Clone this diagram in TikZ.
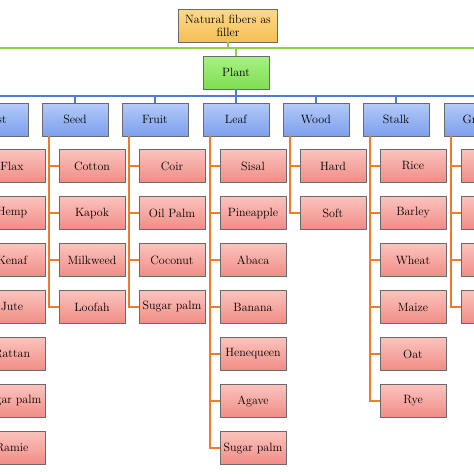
\documentclass[tikz,border=0pt]{standalone}
\definecolor{topA}{HTML}{FCD98A}
\definecolor{topB}{HTML}{F6BE55}
\definecolor{grnA}{HTML}{A8F283}
\definecolor{grnB}{HTML}{7EDD52}
\definecolor{bluA}{HTML}{B3CBF9}
\definecolor{bluB}{HTML}{7D9FEC}
\definecolor{redA}{HTML}{FBC3BD}
\definecolor{redB}{HTML}{F08C86}
\definecolor{lnG}{HTML}{8CD446}
\definecolor{lnB}{HTML}{4F7BD0}
\definecolor{lnO}{HTML}{EE7B30}
\definecolor{bord}{HTML}{6A6A6A}
\tikzset{
  basebox/.style={draw=bord, line width=0.7pt, minimum width=66pt, minimum height=33pt,
    inner sep=1pt, align=center, font=\fontsize{12}{13}\selectfont, text=black},
  topbox/.style={basebox, minimum width=99pt, minimum height=33pt, top color=topA, bottom color=topB},
  plantbox/.style={basebox, top color=grnA, bottom color=grnB},
  catbox/.style={basebox, top color=bluA, bottom color=bluB},
  itembox/.style={basebox, top color=redA, bottom color=redB},
  gline/.style={draw=lnG, line width=2pt},
  bline/.style={draw=lnB, line width=2pt},
  oline/.style={draw=lnO, line width=2pt},
}
\begin{document}
\begin{tikzpicture}[x=1pt,y=-1pt]
\useasboundingbox (0,0) rectangle (474,474);
\clip (0,0) rectangle (474,474);
\fill[white] (0,0) rectangle (474,474);
% root and plant
\node[topbox] (root) at (228,25.5) {Natural fibers as\\filler};
\node[plantbox] (plant) at (236,72.5) {Plant};
\coordinate (gl) at (-5,48);
\coordinate (gr) at (480,48);
\draw[gline] (gl) -- (gr);
\draw[gline] (root.south) -- (root.south |- gl);
\draw[gline] (plant.north) -- (plant.north |- gl);
% category bus
\coordinate (bl) at (-5,96);
\coordinate (br) at (480,96);
\draw[bline] (bl) -- (br);
\draw[bline] (plant.south) -- (plant.south |- bl);
\foreach \nm/\cl [count=\i from 0] in {Bast/-38,Seed/42,Fruit/122,Leaf/203,Wood/283,Stalk/363,Grass/444}{
  \node[catbox] (cat\i) at (\cl+33,119.5) {\nm};
  \draw[bline] (cat\i.north) -- (cat\i.north |- bl);
}
% items
\foreach \i/\cl/\n/\items in {
  0/-38/7/{Flax,Hemp,Kenaf,Jute,Rattan,Sugar palm,Ramie},
  1/42/4/{Cotton,Kapok,Milkweed,Loofah},
  2/122/4/{Coir,Oil Palm,Coconut,Sugar palm},
  3/203/7/{Sisal,Pineapple,Abaca,Banana,Henequeen,Agave,Sugar palm},
  4/283/2/{Hard,Soft},
  5/363/6/{Rice,Barley,Wheat,Maize,Oat,Rye},
  6/444/4/{~,~,~,~}}{
  \foreach \it [count=\k] in \items {
    \pgfmathsetmacro{\iy}{166+47*(\k-1)}
    \node[itembox] (ch\i-\k) at (\cl+50,\iy) {\it};
    \draw[oline] (ch\i-\k.west) -- ++(-10,0);
  }
  \draw[oline] (cat\i.south west) ++(7,0) |- (ch\i-\n.west);
}
\end{tikzpicture}
\end{document}
